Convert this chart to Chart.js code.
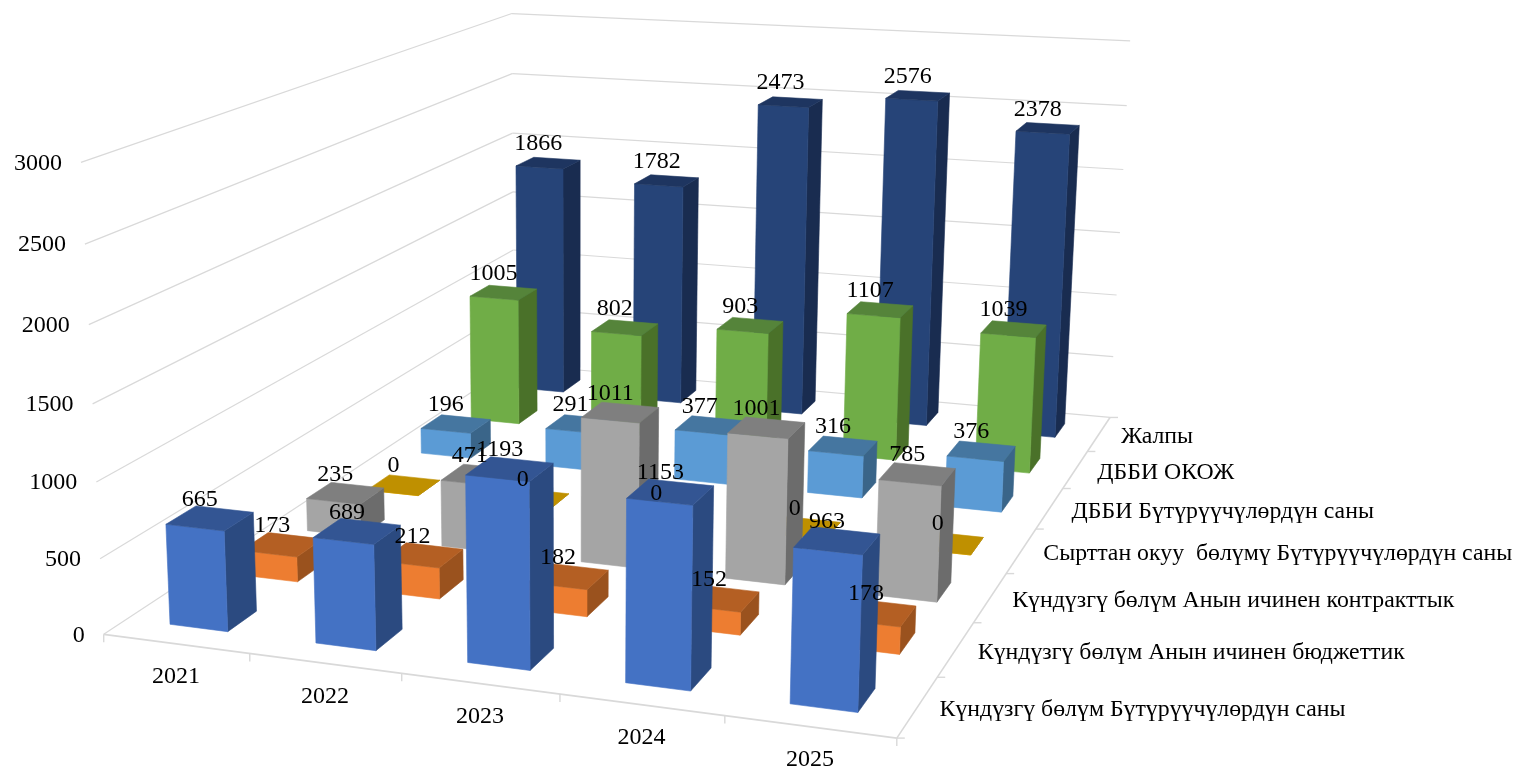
<!DOCTYPE html>
<html>
<head>
<meta charset="utf-8">
<style>
    html, body { margin: 0; padding: 0; background: #fff; }
    #wrapper { width: 1515px; height: 771px; }
</style>
<script src="https://cdn.jsdelivr.net/npm/chart.js@4"></script>
</head>
<body>
<div id="wrapper"><canvas id="chart"></canvas></div>
<script>
const years = ['2021', '2022', '2023', '2024', '2025'];
const seriesNames = [
    'Күндүзгү бөлүм Бүтүрүүчүлөрдүн саны',
    'Күндүзгү бөлүм Анын ичинен бюджеттик',
    'Күндүзгү бөлүм Анын ичинен контракттык',
    'Сырттан окуу  бөлүмү Бүтүрүүчүлөрдүн саны',
    'ДББИ Бүтүрүүчүлөрдүн саны',
    'ДББИ ОКОЖ',
    'Жалпы'
];
const graduates = [665, 689, 1193, 1153, 963];
const budget = [173, 212, 182, 152, 178];
const contract = [235, 471, 1011, 1001, 785];
const distance = [0, 0, 0, 0, 0];
const dbbiGraduates = [196, 291, 377, 316, 376];
const dbbiOkoj = [1005, 802, 903, 1107, 1039];
const total = [1866, 1782, 2473, 2576, 2378];
const seriesValues = [graduates, budget, contract, distance, dbbiGraduates, dbbiOkoj, total];

// front, top, side
const seriesColors = [
    ['#4472C4', '#335593', '#2B4A80'],
    ['#ED7D31', '#B45F23', '#9A521E'],
    ['#A5A5A5', '#7F7F7F', '#6C6C6C'],
    ['#FFC000', '#BF9000', '#A67D00'],
    ['#5B9BD5', '#4576A0', '#3A6589'],
    ['#70AD47', '#55843A', '#4A7129'],
    ['#264478', '#1E3560', '#192C50']
];

const FONT = '"Liberation Serif", "Times New Roman", serif';
const GRID = '#D9D9D9';
const BAR_W = 0.4;
const BAR_D = 0.4;

// Where the corners of the 3D box land in the picture: [u, v, w, x, y]
const boxCorners = [
    [0, 0, 0, 103.5, 632],
    [1, 0, 0, 897, 740],
    [1, 1, 0, 1110, 415],
    [0, 1, 0, 514, 367],
    [0, 0, 1, 81, 163],
    [0, 1, 1, 512, 12],
    [1, 1, 1, 1130, 42]
];

function solveProjection(points) {
    const n = 11;
    let A = [];
    for (let i = 0; i < n; i++) {
        A.push(new Array(n + 1).fill(0));
    }
    function addRow(row, rhs) {
        for (let i = 0; i < n; i++) {
            for (let j = 0; j < n; j++) {
                A[i][j] += row[i] * row[j];
            }
            A[i][n] += row[i] * rhs;
        }
    }
    points.forEach(function(p) {
        let [u, v, w, x, y] = p;
        addRow([u, v, w, 1, 0, 0, 0, 0, -x * u, -x * v, -x * w], x);
        addRow([0, 0, 0, 0, u, v, w, 1, -y * u, -y * v, -y * w], y);
    });
    for (let c = 0; c < n; c++) {
        let best = c;
        for (let r = c + 1; r < n; r++) {
            if (Math.abs(A[r][c]) > Math.abs(A[best][c])) best = r;
        }
        [A[c], A[best]] = [A[best], A[c]];
        for (let r = 0; r < n; r++) {
            if (r === c) continue;
            let f = A[r][c] / A[c][c];
            for (let k = c; k <= n; k++) {
                A[r][k] -= f * A[c][k];
            }
        }
    }
    return A.map(function(row, i) { return row[n] / row[i]; });
}

const P = solveProjection(boxCorners);

function project(u, v, w) {
    let d = P[8] * u + P[9] * v + P[10] * w + 1;
    return [
        (P[0] * u + P[1] * v + P[2] * w + P[3]) / d,
        (P[4] * u + P[5] * v + P[6] * w + P[7]) / d
    ];
}

// Helpers: library scales give the position, the projection places it
function uOf(chart, idx) {
    let s = chart.scales.x;
    return (s.getPixelForValue(idx) - s.left) / s.width;
}
function vOf(chart, idx) {
    let s = chart.scales.depth;
    return (s.getPixelForValue(idx) - s.left) / s.width;
}
function wOf(chart, value) {
    let s = chart.scales.y;
    return (s.bottom - s.getPixelForValue(value)) / s.height;
}

function line(ctx, a, b, color, width) {
    ctx.strokeStyle = color;
    ctx.lineWidth = width;
    ctx.beginPath();
    ctx.moveTo(a[0], a[1]);
    ctx.lineTo(b[0], b[1]);
    ctx.stroke();
}

function face(ctx, pts, color) {
    ctx.fillStyle = color;
    ctx.strokeStyle = color;
    ctx.lineWidth = 0.6;
    ctx.beginPath();
    pts.forEach(function(p, i) {
        if (i === 0) ctx.moveTo(p[0], p[1]);
        else ctx.lineTo(p[0], p[1]);
    });
    ctx.closePath();
    ctx.fill();
    ctx.stroke();
}

function drawBox(chart) {
    let ctx = chart.ctx;
    chart.scales.y.ticks.forEach(function(t) {
        let w = wOf(chart, t.value);
        line(ctx, project(0, 0, w), project(0, 1, w), GRID, 1.2);
        line(ctx, project(0, 1, w), project(1, 1, w), GRID, 1.2);
    });
    line(ctx, project(0, 0, 0), project(1, 0, 0), GRID, 1.6);
    line(ctx, project(1, 0, 0), project(1, 1, 0), GRID, 1.6);

    // tick marks along the floor
    for (let i = 0; i <= years.length; i++) {
        let p = project(i / years.length, 0, 0);
        line(ctx, p, [p[0], p[1] + 8], GRID, 1.4);
    }
    for (let j = 0; j <= seriesNames.length; j++) {
        let p = project(1, j / seriesNames.length, 0);
        line(ctx, p, [p[0] + 8, p[1]], GRID, 1.4);
    }
}

function drawSeries(chart, j) {
    let ctx = chart.ctx;
    let meta = chart.getDatasetMeta(j);
    let colors = seriesColors[j];
    let du = BAR_W / years.length / 2;
    let dv = BAR_D / seriesNames.length / 2;
    let v0 = vOf(chart, j) - dv;
    let v1 = vOf(chart, j) + dv;
    meta.data.forEach(function(el, i) {
        let u0 = uOf(chart, i) - du;
        let u1 = uOf(chart, i) + du;
        let w = wOf(chart, chart.data.datasets[j].data[i]);
        face(ctx, [project(u1, v0, 0), project(u1, v1, 0), project(u1, v1, w), project(u1, v0, w)], colors[2]);
        face(ctx, [project(u0, v0, 0), project(u1, v0, 0), project(u1, v0, w), project(u0, v0, w)], colors[0]);
        face(ctx, [project(u0, v0, w), project(u1, v0, w), project(u1, v1, w), project(u0, v1, w)], colors[1]);
    });
}

function drawTexts(chart) {
    let ctx = chart.ctx;
    ctx.fillStyle = '#000';
    ctx.textBaseline = 'middle';

    // value axis
    ctx.font = '24px ' + FONT;
    ctx.textAlign = 'right';
    chart.scales.y.ticks.forEach(function(t) {
        let p = project(0, 0, wOf(chart, t.value));
        ctx.fillText(t.label, p[0] - 19, p[1] + 1);
    });

    // years
    ctx.textAlign = 'center';
    chart.scales.x.ticks.forEach(function(t, i) {
        let p = project(uOf(chart, i), 0, 0);
        ctx.fillText(t.label, p[0], p[1] + 33);
    });

    // series names
    ctx.textAlign = 'left';
    ctx.font = '23.8px ' + FONT;
    chart.scales.depth.ticks.forEach(function(t, j) {
        let p = project(1, vOf(chart, j), 0);
        ctx.fillText(t.label, p[0] + 22, p[1] + 3);
    });

    // value labels go on top of every bar
    ctx.font = '24px ' + FONT;
    ctx.textAlign = 'center';
    chart.data.datasets.forEach(function(ds, j) {
        ds.data.forEach(function(value, i) {
            let p = project(uOf(chart, i), vOf(chart, j), wOf(chart, value));
            ctx.fillText(String(value), p[0] - 10, p[1] - 19);
        });
    });
}

const bars3d = {
    id: 'bars3d',
    beforeDatasetsDraw: function(chart) { drawBox(chart); },
    beforeDatasetDraw: function(chart, args) {
        drawSeries(chart, args.index);
        return false;
    },
    afterDatasetsDraw: function(chart) { drawTexts(chart); }
};

new Chart(document.getElementById('chart'), {
    type: 'bar',
    data: {
        labels: years,
        datasets: seriesNames.map(function(name, j) {
            return { label: name, data: seriesValues[j], backgroundColor: seriesColors[j][0] };
        })
    },
    options: {
        responsive: true,
        maintainAspectRatio: false,
        animation: false,
        layout: { padding: 0 },
        plugins: { legend: { display: false }, tooltip: { enabled: false } },
        scales: {
            x: { display: false, ticks: { autoSkip: false } },
            y: {
                display: false,
                min: 0,
                max: 3000,
                ticks: { stepSize: 500, callback: function(value) { return String(value); } }
            },
            depth: {
                display: false,
                type: 'category',
                axis: 'x',
                labels: seriesNames,
                offset: true,
                ticks: { autoSkip: false }
            }
        }
    },
    plugins: [bars3d]
});
</script>
</body>
</html>
